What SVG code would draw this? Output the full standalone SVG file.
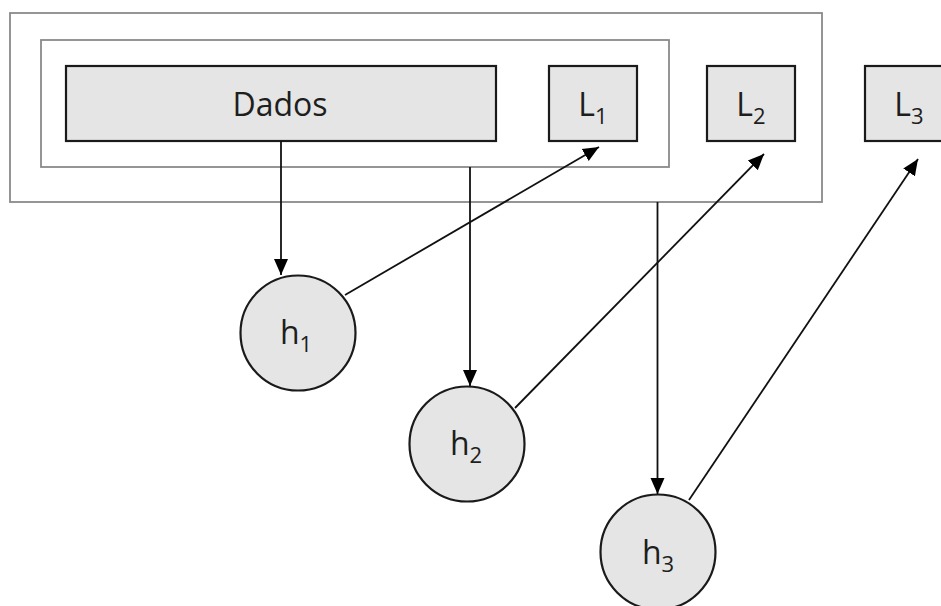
<svg xmlns="http://www.w3.org/2000/svg" width="941" height="606" viewBox="0 0 941 606">
<style>
.container{fill:none;stroke:#8a8a8a;stroke-width:1.8}
.box{fill:#e4e5e4;stroke:#1a1a1a;stroke-width:2.2}
.lbl{font-family:"Open Sans","Noto Sans",sans-serif;font-size:32px;fill:#1e1e1e;text-anchor:middle}
.sub{font-size:22px}
.edge{fill:none;stroke:#111;stroke-width:1.8;marker-end:url(#ah)}
</style>
<defs>
<marker id="ah" markerUnits="userSpaceOnUse" markerWidth="18" markerHeight="18" viewBox="0 0 18 18" refX="16" refY="9" orient="auto">
<path d="M0,2 L16,9 L0,16 Z" fill="#000"/>
</marker>
</defs>
<rect width="941" height="606" fill="#fff"/>
<g id="containers">
<rect class="container" x="10" y="13" width="812" height="189"/>
<rect class="container" x="41" y="40" width="628" height="127"/>
</g>
<g id="dados">
<rect class="box" x="66" y="66" width="430" height="75"/>
<text class="lbl" x="280" y="116">Dados</text>
</g>
<g id="L1">
<rect class="box" x="549" y="66" width="88" height="75"/>
<text class="lbl" x="593" y="116">L<tspan class="sub" dy="8">1</tspan></text>
</g>
<g id="L2">
<rect class="box" x="707" y="66" width="88" height="75"/>
<text class="lbl" x="751" y="116">L<tspan class="sub" dy="8">2</tspan></text>
</g>
<g id="L3">
<rect class="box" x="865" y="66" width="88" height="75"/>
<text class="lbl" x="909" y="116">L<tspan class="sub" dy="8">3</tspan></text>
</g>
<g id="h1">
<circle class="box" cx="298" cy="333" r="57.5"/>
<text class="lbl" x="296" y="344">h<tspan class="sub" dy="8">1</tspan></text>
</g>
<g id="h2">
<circle class="box" cx="467" cy="444" r="57.5"/>
<text class="lbl" x="466" y="455">h<tspan class="sub" dy="8">2</tspan></text>
</g>
<g id="h3">
<circle class="box" cx="658" cy="552" r="57.5"/>
<text class="lbl" x="658" y="564">h<tspan class="sub" dy="8">3</tspan></text>
</g>
<g id="connectors">
<line class="edge" x1="281" y1="141" x2="281" y2="275"/>
<line class="edge" x1="470" y1="167" x2="470" y2="386"/>
<line class="edge" x1="657.5" y1="202" x2="657.5" y2="494"/>
<line class="edge" x1="345" y1="295" x2="599" y2="147"/>
<line class="edge" x1="515" y1="408" x2="764" y2="154"/>
<line class="edge" x1="689" y1="500" x2="918" y2="159"/>
</g>
</svg>
